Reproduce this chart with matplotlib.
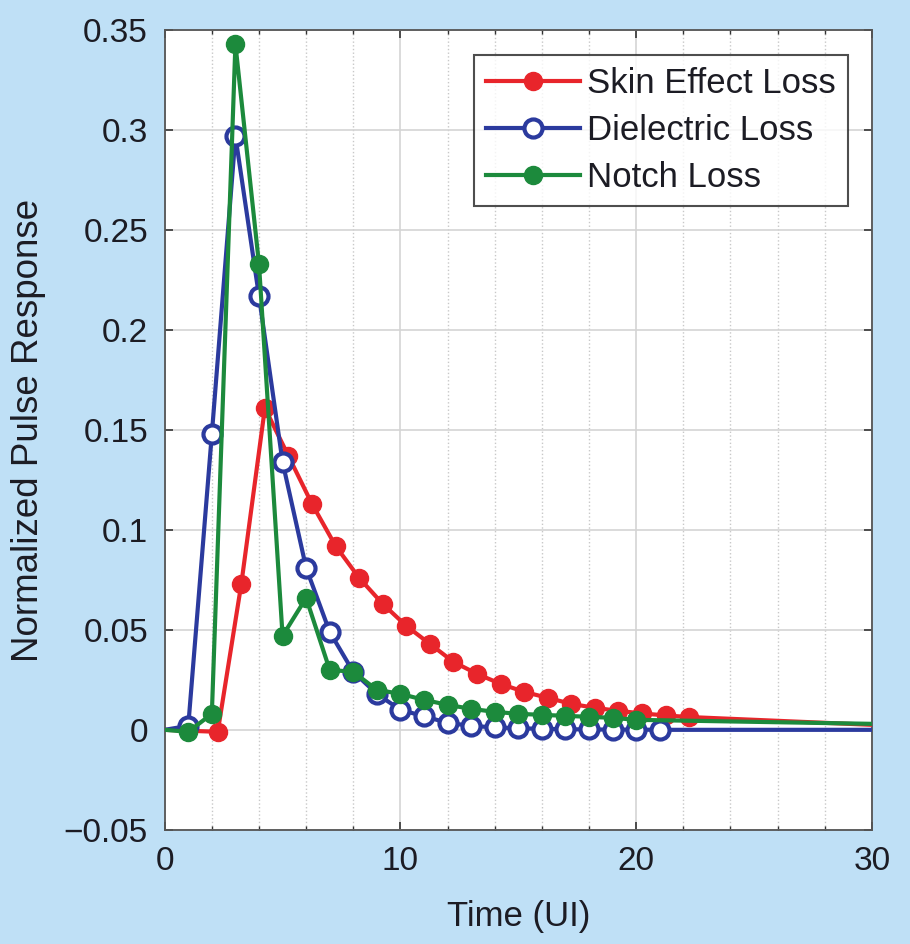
import matplotlib.pyplot as plt
from matplotlib.ticker import MultipleLocator

plt.rcParams["font.family"] = ["Liberation Sans", "DejaVu Sans"]

# sample times (UI); first point is the line start at 0, last is the tail at 30
skin_x = [0, 2.25, 3.25, 4.25, 5.25, 6.25, 7.25, 8.25, 9.25,
          10.25, 11.25, 12.25, 13.25, 14.25, 15.25, 16.25, 17.25, 18.25,
          19.25, 20.25, 21.25, 22.25, 30]
skin_y = [0, -0.001, 0.073, 0.161, 0.137, 0.113, 0.092, 0.076, 0.063,
          0.052, 0.043, 0.034, 0.028, 0.023, 0.019, 0.016, 0.013, 0.011,
          0.0095, 0.0082, 0.0072, 0.0064, 0.0025]

diel_x = [0, 1, 2, 3, 4, 5, 6, 7, 8, 9, 10, 11, 12, 13, 14, 15, 16, 17,
          18, 19, 20, 21, 30]
diel_y = [0, 0.002, 0.148, 0.297, 0.217, 0.134, 0.081, 0.049, 0.029, 0.018,
          0.010, 0.0068, 0.0035, 0.002, 0.0012, 0.0008, 0.0005, 0.0003,
          0.0002, 0.0001, 0.0001, 0.0, 0.0]

notch_x = [0, 1, 2, 3, 4, 5, 6, 7, 8, 9, 10, 11, 12, 13, 14, 15, 16, 17,
           18, 19, 20, 30]
notch_y = [0, -0.001, 0.008, 0.343, 0.233, 0.047, 0.066, 0.030, 0.029,
           0.020, 0.018, 0.015, 0.0125, 0.0105, 0.009, 0.008, 0.0075, 0.007,
           0.0065, 0.006, 0.005, 0.003]

yticks = [-0.05, 0, 0.05, 0.1, 0.15, 0.2, 0.25, 0.3, 0.35]
ytick_labels = ["\u22120.05", "0", "0.05", "0.1", "0.15", "0.2", "0.25",
                "0.3", "0.35"]

red = "#e8252b"
blue = "#2b3a9e"
green = "#1c8a3c"
txt = "#1c1c24"

fig = plt.figure(figsize=(9.1, 9.44), dpi=100, facecolor="#bfe0f6")
ax = fig.add_axes([0.181, 0.121, 0.777, 0.847])

ax.plot(skin_x, skin_y, color=red, lw=3.0, marker="o", ms=13,
        markevery=slice(1, len(skin_x) - 1), label="Skin Effect Loss", zorder=3)
ax.plot(diel_x, diel_y, color=blue, lw=3.0, marker="o", ms=13,
        mfc="white", mew=3.0, markevery=slice(1, len(diel_x) - 1),
        label="Dielectric Loss", zorder=4)
ax.plot(notch_x, notch_y, color=green, lw=3.0, marker="o", ms=13,
        markevery=slice(1, len(notch_x) - 1), label="Notch Loss", zorder=5)

ax.set_xlim(0, 30)
ax.set_ylim(-0.05, 0.35)
ax.xaxis.set_major_locator(MultipleLocator(10))
ax.xaxis.set_minor_locator(MultipleLocator(2))
ax.set_yticks(yticks)
ax.set_yticklabels(ytick_labels)

ax.grid(which="major", color="#d4d4d4", lw=1.2, ls="-")
ax.grid(which="minor", axis="x", color="#c8c8c8", lw=1.0, ls=":")
ax.set_axisbelow(True)

ax.tick_params(which="both", direction="in", top=True, right=True,
               labelsize=24, colors="#333333", labelcolor=txt)
ax.tick_params(which="major", length=6, width=1.2, pad=12)
ax.tick_params(which="minor", length=3, width=1.0)
for s in ax.spines.values():
    s.set_color("#555555")
    s.set_linewidth(1.3)

ax.set_xlabel("Time (UI)", fontsize=25, color=txt, labelpad=16)
ax.set_ylabel("Normalized Pulse Response", fontsize=26.5, color=txt)
ax.yaxis.set_label_coords(-0.168, 0.5)

leg = ax.legend(loc="upper right", bbox_to_anchor=(0.966, 0.969), fontsize=25,
                frameon=True, fancybox=False, handlelength=2.7,
                handletextpad=0.2, borderpad=0.35, labelspacing=0.4,
                borderaxespad=0)
leg.get_frame().set_edgecolor("#222222")
leg.get_frame().set_linewidth(1.5)
for t in leg.get_texts():
    t.set_color(txt)

fig.savefig("out.png", dpi=100, facecolor=fig.get_facecolor())
